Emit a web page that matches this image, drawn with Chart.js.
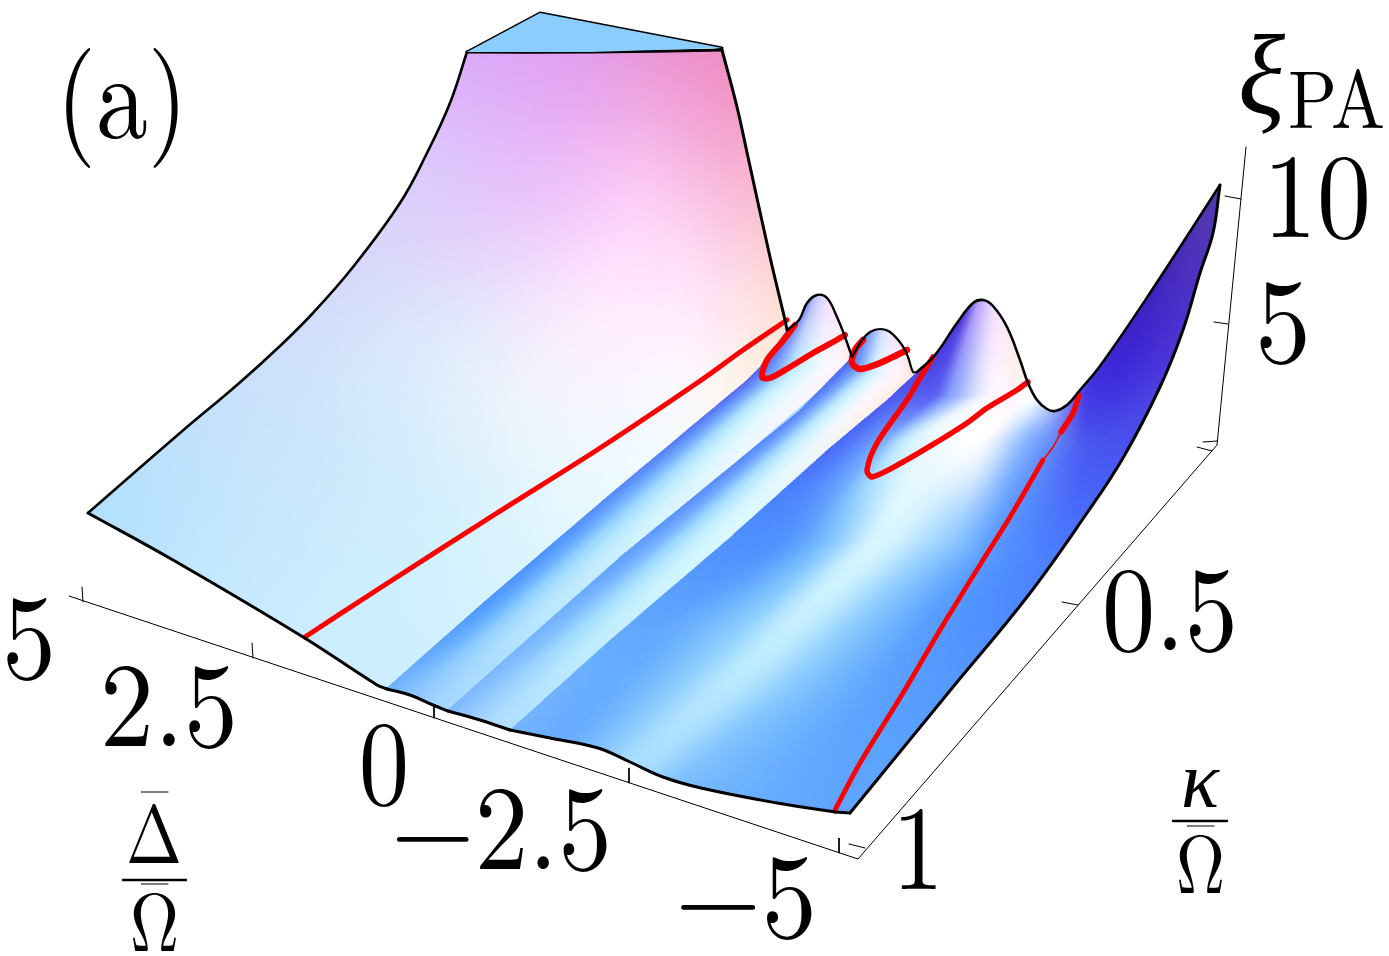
<!DOCTYPE html>
<html><head><meta charset="utf-8">
<style>html,body{margin:0;padding:0;background:#fff}canvas{display:block}</style>
<script src="https://cdn.jsdelivr.net/npm/chart.js@4"></script>
</head><body><canvas id="c" width="1389" height="956"></canvas>
<script>
// ---- values, in the projected plane of the 3D plot ----
const deltaTickLabels = ['5','2.5','0','\u22122.5','\u22125'];
const kappaTickLabels = ['0.5','1'];
const xiTickLabels = ['5','10'];
const panelLabel = '(a)';

const faceLeftEdge = [[88,513],[180,433],[237,385],[280,346],[313,313],[353,267],[400,203],[427,153],[450,103],[467,52]];
const faceTopEdge = [[467,52],[590,52],[722,50]];
const faceRightEdge = [[722,50],[737,107],[748,157],[770,257],[785,320],[787,330]];
const ridge1 = [[387,688],[483,603],[607,497],[747,380],[760,367],[787,330]];
const ridge2 = [[448,710],[619,558],[800,410],[852,357]];
const ridge3 = [[510,730],[607,643],[733,535],[825,452],[887,400],[917,372]];
const frontA = [[88,513],[173,560],[303,637],[377,685],[387,689]];
const frontB = [[387,689],[410,695],[433,705],[448,711]];
const frontC = [[448,711],[480,720],[510,730]];
const frontD = [[510,730],[550,738],[598,748],[630,762],[663,777],[701,788],[777,803],[835,812]];
const cornerEdge = [[835,812],[850,813]];
const rightLowerEdge = [[850,813],[953,687],[1027,597],[1087,513],[1123,458],[1160,387],[1183,330],[1200,273],[1213,233],[1220,185]];
const rightUpperEdge = [[1220,185],[1150,293],[1100,366],[1080,390],[1067,405],[1055,411],[1047,409],[1037,400],[1028,383],[1020,360],[1007,327],[993,306],[983,300],[973,303],[957,323],[935,355],[917,372]];
const peak1Edge = [[787,330],[799,320],[807,303],[817,295],[827,298],[837,317],[845,337],[852,357]];
const peak2Edge = [[852,357],[862,340],[870,332],[880,329],[890,332],[902,345],[908,357],[913,372],[917,372]];
const topCapOutline = [[467,52],[540,13],[722,48],[590,52]];
const capEdge = [[467,52],[540,13],[722,48]];

const faceNodes = [
 [[70,520],[200,400],[310,290],[400,180],[450,40]],
 [[200,600],[340,455],[450,330],[540,190],[570,40]],
 [[320,660],[450,520],[560,380],[640,230],[650,40]],
 [[390,700],[520,590],[640,470],[720,340],[730,40]],
 [[420,720],[570,590],[700,470],[800,330],[790,40]]];
const faceColors = [
 [[175,224,254],[198,224,252],[210,218,250],[218,205,252],[220,170,252]],
 [[195,232,255],[205,232,252],[225,232,252],[235,195,250],[225,160,240]],
 [[203,238,255],[212,240,253],[245,243,252],[255,215,250],[232,150,215]],
 [[203,238,255],[218,243,255],[240,250,255],[255,235,245],[240,140,195]],
 [[205,238,255],[225,247,255],[252,248,252],[255,225,208],[245,140,185]]];

const peak1Nodes = [
 [[384,687],[480,603],[614,489],[748,373],[795,310]],
 [[401,692],[498,607],[634,489],[771,371],[808,300]],
 [[414,698],[515,610],[654,490],[794,369],[818,290]],
 [[433,704],[536,614],[678,491],[822,366],[830,295]],
 [[451,711],[556,619],[702,491],[849,364],[860,330]]];
const peak1Colors = [
 [[110,175,255],[75,150,255],[85,135,250],[85,85,232],[85,85,225]],
 [[125,188,255],[100,172,255],[110,170,252],[110,150,250],[110,115,240]],
 [[145,200,255],[145,208,255],[165,220,255],[190,230,255],[190,190,250]],
 [[160,212,255],[180,228,255],[210,242,255],[240,248,255],[245,225,255]],
 [[170,218,255],[190,232,255],[228,247,255],[255,242,248],[255,228,225]]];

const peak2Nodes = [
 [[445,709],[550,617],[695,490],[841,363],[865,335]],
 [[460,714],[566,622],[711,494],[857,367],[878,320]],
 [[476,719],[581,627],[727,499],[873,371],[888,320]],
 [[495,725],[600,632],[746,504],[893,375],[900,330]],
 [[513,731],[619,638],[765,509],[912,380],[925,350]]];
const peak2Colors = [
 [[125,185,255],[110,175,255],[85,135,252],[70,90,240],[90,120,245]],
 [[140,195,255],[130,190,255],[110,165,255],[110,150,250],[150,180,250]],
 [[160,210,255],[160,218,255],[170,222,255],[200,235,255],[225,225,255]],
 [[175,222,255],[190,235,255],[215,245,255],[255,245,252],[245,225,255]],
 [[175,225,255],[200,240,255],[225,248,255],[255,235,225],[255,225,215]]];

const peak3Nodes = [
 [[500,725],[605,638],[757,510],[860,420],[910,365],[945,340]],
 [[560,745],[680,620],[790,540],[885,440],[935,395],[970,300]],
 [[600,748],[726,640],[830,540],[905,440],[950,395],[983,290]],
 [[635,768],[753,663],[880,540],[940,425],[985,395],[998,290]],
 [[680,785],[790,690],[950,540],[985,440],[1015,395],[1025,350]],
 [[760,810],[870,690],[985,560],[1030,440],[1040,395],[1050,390]],
 [[860,820],[950,720],[1060,560],[1085,445],[1085,395],[1110,340]],
 [[880,790],[1000,640],[1110,510],[1170,400],[1190,320],[1230,175]]];
const peak3Colors = [
 [[120,182,255],[100,170,255],[75,135,255],[72,95,245],[72,72,228],[70,55,215]],
 [[105,172,255],[100,170,255],[85,150,255],[120,170,255],[90,95,242],[85,62,218]],
 [[130,195,255],[140,205,255],[130,195,255],[195,232,255],[135,160,250],[190,160,248]],
 [[170,222,255],[190,235,255],[215,245,255],[238,248,255],[240,240,255],[245,220,255]],
 [[125,190,255],[135,200,255],[150,205,255],[250,250,255],[255,245,250],[255,235,225]],
 [[102,172,255],[95,165,255],[90,155,255],[130,175,255],[235,243,255],[235,235,250]],
 [[95,165,255],[85,155,255],[75,125,255],[75,90,240],[72,60,225],[75,45,205]],
 [[95,165,255],[85,150,255],[75,115,252],[78,70,230],[78,50,205],[85,60,175]]];

const redLine1 = [[305,637],[380,588],[497,513],[597,450],[697,383],[743,350],[787,320]];
const redLoop1 = [[795,325],[782,342],[767,360],[762,377],[770,378],[790,367],[813,353],[833,342],[845,335]];
const redLoop2 = [[863,340],[855,350],[852,363],[860,369],[880,363],[897,355],[907,350]];
const redLoop3 = [[933,357],[917,383],[907,400],[877,443],[867,470],[872,477],[903,462],[937,442],[967,423],[987,408],[1017,390],[1028,382]];
const redLine4a = [[1079,395],[1073,413],[1061,432]];
const redLine4b = [[1061,432],[1053,447],[1043,460]];
const redLine4c = [[1043,460],[1010,517],[983,560],[940,630],[903,693],[860,763],[835,810]];

const boxAxes = [[69,596],[858,859],[1217,445],[1246,147]];
const axisTicks = [
 [[82,587],[83,602]],[[252,643],[253,658]],[[434,705],[434,718]],[[629,768],[629,783]],[[839,838],[839,853]],
 [[1212,451],[1197,447]],[[1078,605],[1062,602]],[[865,848],[849,844]],
 [[1217,441],[1203,442]],[[1228,324],[1214,322]],[[1241,199],[1225,196]]];
const fractionBars = [
 [[[123,880],[186,880]],2.4],[[[141,792],[168,792]],1],[[[141,884],[168,884]],1],
 [[[1173,821],[1227,821]],2.4],[[[1187,826],[1214,826]],1]];

// ---- drawing ----
const rev = a => [...a].reverse();
const toPts = a => a.map(p => ({x:p[0],y:p[1]}));
const TENSION = 0.4;
const datasets = [];
const patches = [
 {nodes:faceNodes, colors:faceColors, outline:[[faceLeftEdge,1],[faceTopEdge,1],[faceRightEdge,1],[rev(ridge1),0],[rev(frontA),1]]},
 {nodes:peak1Nodes, colors:peak1Colors, outline:[[ridge1,0],[peak1Edge,1],[rev(ridge2),0],[rev(frontB),1]]},
 {nodes:peak2Nodes, colors:peak2Colors, outline:[[ridge2,0],[peak2Edge,1],[rev(ridge3),0],[rev(frontC),1]]},
 {nodes:peak3Nodes, colors:peak3Colors, outline:[[ridge3,0],[rev(rightUpperEdge),1],[rev(rightLowerEdge),1],[rev(cornerEdge),0],[rev(frontD),1]]}];
patches.forEach((p,i) => {
  p.index = datasets.length;
  datasets.push({label:'surface '+i, data:toPts(p.nodes.flat()), showLine:false, pointRadius:0});
});
const stroke = (a,w,c,label,t) => datasets.push({label:label, data:toPts(a), showLine:true, pointRadius:0,
  borderWidth:w, borderColor:c, fill:false, tension:t===undefined?TENSION:t, borderJoinStyle:'round', borderCapStyle:'round'});
datasets.push({label:'cap', data:toPts(topCapOutline), showLine:true, pointRadius:0, borderWidth:0, fill:'shape', backgroundColor:'rgb(140,205,255)'});
stroke(boxAxes,1,'#000','axes',0);
axisTicks.forEach(t => stroke(t,1,'#000','tick',0));
[frontA,frontB,frontC,frontD,cornerEdge,rightLowerEdge].forEach(a => stroke(a,3,'#000','edge'));
stroke(rightUpperEdge,2.6,'#000','edge');
stroke(peak1Edge,2.4,'#000','edge');
stroke(peak2Edge,2.2,'#000','edge');
stroke(faceLeftEdge,2.6,'#000','edge');
[faceTopEdge,faceRightEdge].forEach(a => stroke(a,3,'#000','edge'));
stroke(capEdge,3,'#000','edge',0);
fractionBars.forEach(b => stroke(b[0],b[1],'#000','bar',0));
stroke(redLine1,5,'#ff0000','red',0.3);
stroke(redLoop1,6,'#ff0000','red',0.3);
stroke(redLoop2,6.5,'#ff0000','red',0.3);
stroke(redLoop3,5.5,'#ff0000','red',0.3);
stroke(redLine4a,5.5,'#ff0000','red',0.3);
stroke(redLine4b,1.6,'#ff0000','red',0.3);
stroke(redLine4c,4.8,'#ff0000','red',0.3);

const cr = (p0,p1,p2,p3,t) => 0.5*(2*p1+(p2-p0)*t+(2*p0-5*p1+4*p2-p3)*t*t+(3*p1-p0-3*p2+p3)*t*t*t);
function shade(colors,R,C,k){
  const rows=colors.length,cols=colors[0].length;
  const cl=(v,n)=>Math.max(0,Math.min(n-1,v));
  const r=Math.min(rows-2,Math.floor(R)),c=Math.min(cols-2,Math.floor(C)),u=R-r,v=C-c;
  const at=i=>{const row=colors[cl(i,rows)];
    return cr(row[cl(c-1,cols)][k],row[c][k],row[c+1][k],row[cl(c+2,cols)][k],v);};
  return Math.max(0,Math.min(255,Math.round(cr(at(r-1),at(r),at(r+1),at(r+2),u))));
}
const splineCurve = Chart.helpers.splineCurve;
function tracePiece(ctx,pix,t,first){
  const cps=pix.map((cur,i)=>splineCurve(pix[Math.max(0,i-1)],cur,pix[Math.min(pix.length-1,i+1)],t));
  pix.forEach((cur,i)=>{
    if(i===0){ first?ctx.moveTo(cur.x,cur.y):ctx.lineTo(cur.x,cur.y); return; }
    ctx.bezierCurveTo(cps[i-1].next.x,cps[i-1].next.y,cps[i].previous.x,cps[i].previous.y,cur.x,cur.y);
  });
}
const meshPlugin = {
  id:'mesh',
  beforeDatasetsDraw(chart){
    const ctx = chart.ctx, sx = chart.scales.x, sy = chart.scales.y;
    patches.forEach(p => {
      const pts = chart.getDatasetMeta(p.index).data;
      const rows = p.nodes.length, cols = p.nodes[0].length;
      const P = (r,c) => pts[r*cols+c];
      ctx.save();
      ctx.beginPath();
      p.outline.forEach(([arr,smooth],i) => {
        const pix = arr.map(q=>({x:sx.getPixelForValue(q[0]),y:sy.getPixelForValue(q[1])}));
        tracePiece(ctx,pix,smooth?TENSION:0,i===0);
      });
      ctx.closePath();
      ctx.fillStyle = `rgb(${p.colors[rows>>1][cols>>1]})`; ctx.fill();
      ctx.clip();
      ctx.lineWidth = 1;
      for (let r=0;r<rows-1;r++) for (let c=0;c<cols-1;c++){
        const a=P(r,c),b=P(r+1,c),d=P(r,c+1),e=P(r+1,c+1);
        const n=Math.max(2,Math.ceil(Math.max(Math.hypot(a.x-b.x,a.y-b.y),Math.hypot(d.x-e.x,d.y-e.y))/3));
        const m=Math.max(2,Math.ceil(Math.max(Math.hypot(a.x-d.x,a.y-d.y),Math.hypot(b.x-e.x,b.y-e.y))/4));
        const L=(u,v)=>({x:(1-u)*(1-v)*a.x+u*(1-v)*b.x+(1-u)*v*d.x+u*v*e.x,
                         y:(1-u)*(1-v)*a.y+u*(1-v)*b.y+(1-u)*v*d.y+u*v*e.y});
        for(let i=0;i<n;i++)for(let j=0;j<m;j++){
          const u=(i+.5)/n,v=(j+.5)/m;
          const s=`rgb(${shade(p.colors,r+u,c+v,0)},${shade(p.colors,r+u,c+v,1)},${shade(p.colors,r+u,c+v,2)})`;
          const q1=L(i/n,j/m),q2=L((i+1)/n,j/m),q3=L((i+1)/n,(j+1)/m),q4=L(i/n,(j+1)/m);
          ctx.fillStyle=s;ctx.strokeStyle=s;
          ctx.beginPath();ctx.moveTo(q1.x,q1.y);ctx.lineTo(q2.x,q2.y);ctx.lineTo(q3.x,q3.y);ctx.lineTo(q4.x,q4.y);ctx.closePath();
          ctx.fill();ctx.stroke();
        }
      }
      ctx.restore();
    });
  }
};

const SERIF = '"Latin Modern Roman","Liberation Serif",serif';
// text, left, baseline, width, font
const textItems = [
 [panelLabel,56,138,132,'120px '+SERIF],
 [xiTickLabels[1],1263,237,108,'120px '+SERIF],
 [xiTickLabels[0],1255,362,56,'120px '+SERIF],
 [kappaTickLabels[0],1102,650,136,'120px '+SERIF],
 [kappaTickLabels[1],892,889,52,'120px '+SERIF],
 [deltaTickLabels[0],2,678,54,'120px '+SERIF],
 [deltaTickLabels[1],100,746,138,'120px '+SERIF],
 [deltaTickLabels[2],359,804,50,'120px '+SERIF],
 [deltaTickLabels[3],391,869,221,'120px '+SERIF],
 [deltaTickLabels[4],675,937,142,'120px '+SERIF],
 ['\u03BE',1238,114,47,'italic 114px '+SERIF],
 ['PA',1288,128,97,'82px '+SERIF],
 ['\u0394',126,863,56,'82px '+SERIF],
 ['\u03A9',130,951,49,'82px '+SERIF],
 ['\u03BA',1181,807,38,'italic 81px '+SERIF],
 ['\u03A9',1176,893,49,'82px '+SERIF]];
const textPlugin = {
  id:'labels',
  afterDatasetsDraw(chart){
    const ctx=chart.ctx,sx=chart.scales.x,sy=chart.scales.y;
    ctx.save();ctx.fillStyle='#000';ctx.textBaseline='alphabetic';ctx.textAlign='left';
    textItems.forEach(([t,x,y,w,f])=>{
      ctx.font=f;
      const k=w/ctx.measureText(t).width;
      ctx.save();ctx.translate(sx.getPixelForValue(x),sy.getPixelForValue(y));ctx.scale(k,1);
      ctx.fillText(t,0,0);ctx.restore();
    });
    ctx.restore();
  }
};

new Chart(document.getElementById('c'),{
  type:'scatter',
  data:{datasets},
  options:{
    responsive:false,animation:false,devicePixelRatio:1,
    layout:{padding:0},
    events:[],
    plugins:{legend:{display:false},tooltip:{enabled:false},title:{display:false}},
    scales:{
      x:{type:'linear',min:0,max:1389,display:false},
      y:{type:'linear',min:0,max:956,reverse:true,display:false}
    }
  },
  plugins:[meshPlugin,textPlugin]
});
</script></body></html>
